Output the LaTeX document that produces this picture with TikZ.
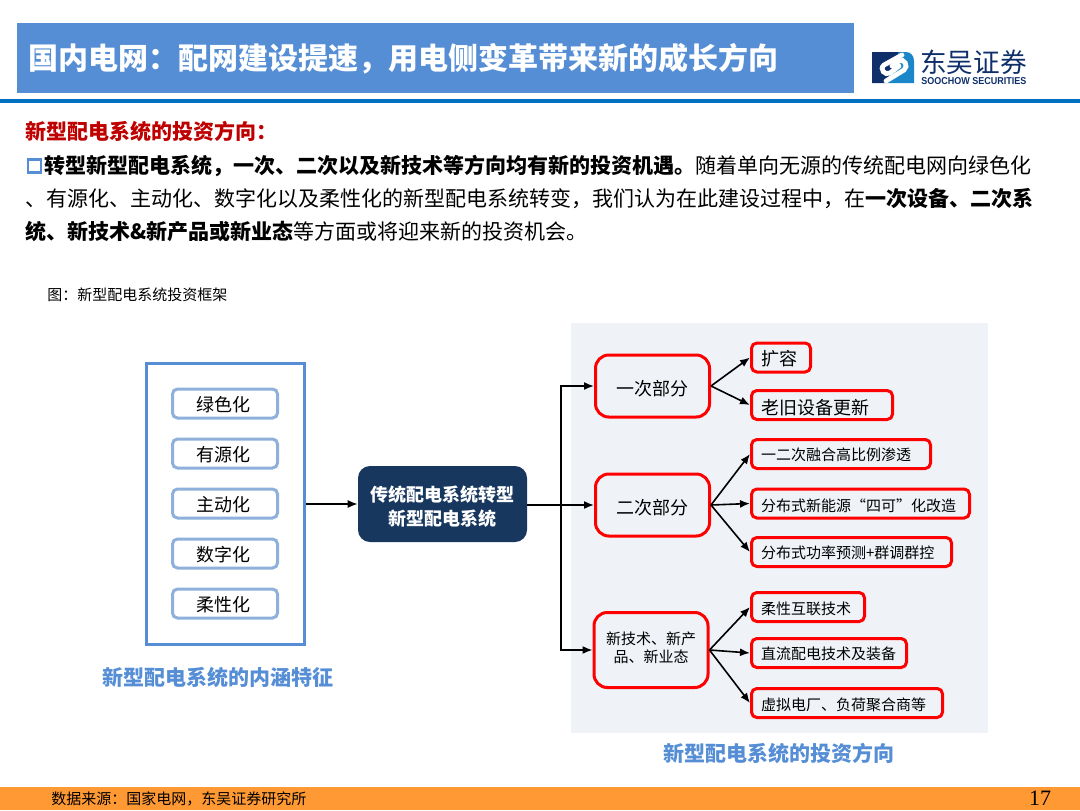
\documentclass[tikz,border=0pt]{standalone}
\usepackage{fontspec}
\setmainfont{Noto Sans CJK SC}
\newfontfamily\logofont[FakeStretch=0.9]{Liberation Sans}
\newfontfamily\pagefont{Liberation Serif}
\usetikzlibrary{arrows.meta, positioning}
\newcommand{\fwcolon}{\char"FF1A\relax}
\newcommand{\fwcomma}{\char"FF0C\relax}
\definecolor{titleblue}{HTML}{558ED5}
\definecolor{ruleblue}{HTML}{0070C0}
\definecolor{panelgray}{HTML}{EFF3F8}
\definecolor{featureblue}{HTML}{8EB0DB}
\definecolor{centernavy}{HTML}{17375E}
\definecolor{barorange}{HTML}{FF9933}
\definecolor{logonavy}{HTML}{0F2F6B}
\definecolor{logoblue}{HTML}{1B87C9}
\tikzset{
  % Left column boxes
  featurebox/.style={draw=featureblue, line width=2.25pt, rounded corners=3.75pt, minimum width=78.75pt, minimum height=21.75pt, inner xsep=17.6pt, inner ysep=0pt, text width=43.5pt, align=left, text height=13.4pt, text depth=1.6pt, font=\fontsize{13.5pt}{16pt}\selectfont},
  % Red boxes on the right
  partbox/.style={draw=red, line width=2.25pt, rounded corners=10pt, minimum width=85.5pt, minimum height=46.5pt, inner sep=0pt, align=center},
  leafbox/.style={draw=red, line width=2.25pt, rounded corners=4pt, anchor=west, minimum height=21.75pt, inner xsep=7.125pt, inner ysep=0pt, align=left, text height=11.45pt, text depth=1.4pt, font=\fontsize{11.25pt}{13.5pt}\selectfont},
  % Captions
  captionnode/.style={text=titleblue, font=\fontsize{15.75pt}{19pt}\selectfont\bfseries},
  % Pointers
  flowpointer/.style={-{Latex[length=7.5pt,width=6pt]}, line width=1.2pt, draw=black},
}
\begin{document}
\begin{tikzpicture}[x=0.75pt, y=-0.75pt]
  \useasboundingbox (0,0) rectangle (1080,810);

  % Header
  \fill[titleblue] (17,23) rectangle (854,93);
  \node[anchor=west, inner sep=0pt, text=white, font=\fontsize{22.5pt}{27pt}\selectfont\bfseries] (title) at (28,59) {国内电网\fwcolon 配网建设提速\fwcomma 用电侧变革带来新的成长方向};
  \fill[ruleblue] (0,99) rectangle (1080,103);

  % Logo
  \fill[logonavy] (872,52) -- (899,52) -- (886,83) -- (872,83) -- cycle;
  \fill[logoblue] (899,52) -- (906,52) .. controls (911,52) and (914,56) .. (914,61) -- (914,83) -- (886,83) -- cycle;
  \draw[white, line width=3.6pt, line cap=round] (902,55) -- (884,65) .. controls (879,69) and (885,76) .. (890,73) -- (899,66);
  \draw[white, line width=3.6pt, line cap=round] (886,81) -- (904,70) .. controls (909,66) and (904,58) .. (899,61) -- (892,66);
  \node[anchor=west, inner sep=0pt, text=logonavy, font=\fontsize{20pt}{24pt}\selectfont] (logotext) at (920,62) {东吴证券};
  \node[anchor=west, inner sep=0pt, text=logonavy, font=\fontsize{7.5pt}{8pt}\logofont\bfseries] (logosub) at (921,81) {SOOCHOW SECURITIES};

  % Intro text
  \node[anchor=west, inner sep=0pt, text=red!75!black, font=\fontsize{15.75pt}{19pt}\selectfont\bfseries] (heading) at (25,131) {新型配电系统的投资方向\fwcolon};
  \node[draw=titleblue, line width=1.9pt, minimum size=9.75pt, inner sep=0pt] (bullet) at (34.5,166) {};
  \node[anchor=north west, inner sep=0pt, align=left, font=\fontsize{15.75pt}{24.75pt}\selectfont] (intro) at (25,155) {\hspace*{14.25pt}{\bfseries 转型新型配电系统\fwcomma 一次、二次以及新技术等方向均有新的投资机遇。}随着单向无源的传统配电网向绿色化\\、有源化、主动化、数字化以及柔性化的新型配电系统转变\fwcomma 我们认为在此建设过程中\fwcomma 在{\bfseries 一次设备、二次系}\\{\bfseries 统、新技术\&新产品或新业态}等方面或将迎来新的投资机会。};
  \node[anchor=west, inner sep=0pt, font=\fontsize{11.25pt}{13.5pt}\selectfont] (figlabel) at (47,295) {图\fwcolon 新型配电系统投资框架};

  % Left column
  \node[draw=titleblue, line width=2.25pt, minimum width=118.5pt, minimum height=210.5pt] (outer) at (225.25,504) {};
  \node[featurebox] (green) at (225,403.5) {绿色化};
  \node[featurebox, below=13.5pt of green] (source) {有源化};
  \node[featurebox, below=13.5pt of source] (active) {主动化};
  \node[featurebox, below=13.5pt of active] (digital) {数字化};
  \node[featurebox, below=13.5pt of digital] (flexible) {柔性化};
  \node[captionnode] (leftcaption) at (218,677) {新型配电系统的内涵特征};

  % Center node
  \node[fill=centernavy, text=white, rounded corners=9pt, minimum width=126.75pt, minimum height=57pt, align=center, text height=33.7pt, text depth=1.6pt, font=\fontsize{13.5pt}{18pt}\selectfont\bfseries] (center) at (442.5,504) {传统配电系统转型\\新型配电系统};

  % Right panel
  \fill[panelgray] (571,323) rectangle (988,733);
  \node[captionnode] (rightcaption) at (779,753) {新型配电系统的投资方向};

  \node[partbox, text height=15.6pt, text depth=1.6pt, font=\fontsize{13.5pt}{16pt}\selectfont] (primary) at (652.5,386) {一次部分};
  \node[partbox, text height=15.6pt, text depth=1.6pt, font=\fontsize{13.5pt}{16pt}\selectfont] (secondary) at (652.5,505) {二次部分};
  \node[partbox, minimum height=56.25pt, text height=23.4pt, text depth=4.4pt, font=\fontsize{11.25pt}{13.5pt}\selectfont] (newtech) at (651,650) {新技术、新产\\品、新业态};

  \node[leafbox, text width=30pt, text height=14.1pt, text depth=1.6pt, font=\fontsize{13.5pt}{16pt}\selectfont] (expand) at (750,357.5) {扩容};
  \node[leafbox, text width=91.5pt, text height=16.4pt, text depth=1.6pt, font=\fontsize{13.5pt}{16pt}\selectfont] (renew) at (750,405) {老旧设备更新};
  \node[leafbox, text width=120pt] (fusion) at (750,454) {一二次融合高比例渗透};
  \node[leafbox, text width=149.25pt, text height=13.75pt] (fourable) at (750,503.5) {分布式新能源“四可”化改造};
  \node[leafbox, text width=135.75pt] (forecast) at (750,552) {分布式功率预测+群调群控};
  \node[leafbox, text width=70.5pt, text height=12.95pt] (interlink) at (750,607) {柔性互联技术};
  \node[leafbox, text width=102pt] (dcgrid) at (750,653) {直流配电技术及装备};
  \node[leafbox, text width=129pt, text height=12.95pt] (virtual) at (750,703) {虚拟电厂、负荷聚合商等};

  % Arrows
  \draw[flowpointer] (outer.east |- center) -- (center.west);
  \coordinate (trunk) at (561,505);
  \draw[line width=1.2pt] (center.east |- trunk) -- (trunk);
  \draw[flowpointer] (trunk) |- (primary.west);
  \draw[flowpointer] (trunk) -- (secondary.west);
  \draw[flowpointer] (trunk) |- (newtech.west);

  \foreach \leaf in {expand, renew}
    \draw[flowpointer] (primary.east) -- (\leaf.west);
  \foreach \leaf in {fusion, fourable, forecast}
    \draw[flowpointer] (secondary.east) -- (\leaf.west);
  \foreach \leaf in {interlink, dcgrid, virtual}
    \draw[flowpointer] (newtech.east) -- (\leaf.west);

  % Footer
  \fill[barorange] (0,787) rectangle (1080,810);
  \node[anchor=west, inner sep=0pt, font=\fontsize{11.25pt}{13.5pt}\selectfont] (footer) at (51,799) {数据来源\fwcolon 国家电网\fwcomma 东吴证券研究所};
  \node[inner sep=0pt, font=\fontsize{16.5pt}{18pt}\pagefont] (pagenum) at (1040,798) {17};
\end{tikzpicture}
\end{document}
